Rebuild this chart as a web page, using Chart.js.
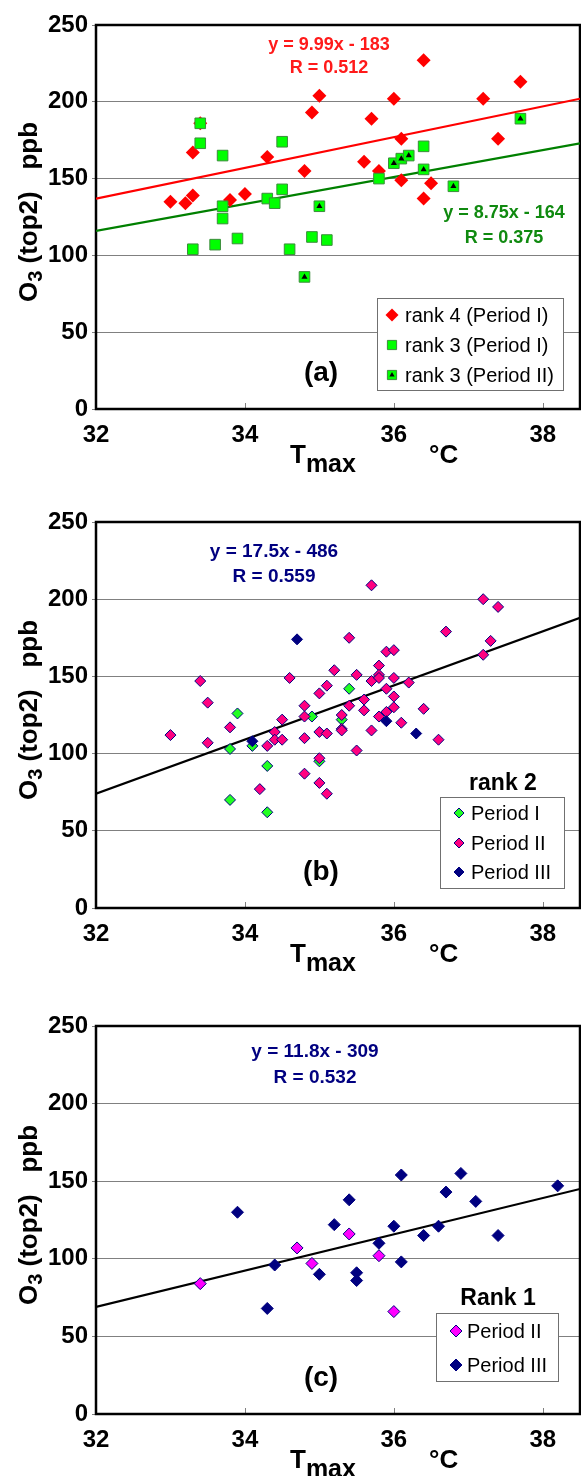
<!DOCTYPE html>
<html>
<head>
<meta charset="utf-8">
<script src="https://cdn.jsdelivr.net/npm/chart.js@4.4.1/dist/chart.umd.min.js"></script>
<style>
  body { margin: 0; background: #fff; }
  canvas { position: absolute; left: 0; }
</style>
</head>
<body>
<canvas id="chartA" width="581" height="497" style="top:0"></canvas>
<canvas id="chartB" width="581" height="504" style="top:497px"></canvas>
<canvas id="chartC" width="581" height="475" style="top:1001px"></canvas>
<script>
// axes
const xTicks = [32, 34, 36, 38];
const yTicks = [0, 50, 100, 150, 200, 250];

// (a) rank 4 / rank 3
const aRank4X = [33.0, 33.2, 33.3, 33.3, 33.4, 33.8, 34.0, 34.3, 34.8, 34.9, 35.0, 35.6, 35.7, 35.8, 36.0, 36.1, 36.1, 36.4, 36.4, 36.5, 37.2, 37.4, 37.7];
const aRank4Y = [135, 134, 139, 167, 186, 136, 140, 164, 155, 193, 204, 161, 189, 155, 202, 176, 149, 227, 137, 147, 202, 176, 213];
const aRank3P1X = [33.3, 33.4, 33.4, 33.6, 33.7, 33.7, 33.7, 33.9, 34.3, 34.4, 34.5, 34.5, 34.6, 34.9, 35.1, 35.8, 36.4];
const aRank3P1Y = [104, 186, 173, 107, 165, 132, 124, 111, 137, 134, 174, 143, 104, 112, 110, 150, 171];
const aRank3P2X = [34.8, 35.0, 36.0, 36.1, 36.2, 36.4, 36.8, 37.7];
const aRank3P2Y = [86, 132, 160, 163, 165, 156, 145, 189];
const aRedLineX = [32, 38.5];
const aRedLineY = [137, 202];
const aGreenLineX = [32, 38.5];
const aGreenLineY = [116, 173];

// (b) rank 2
const bP1X = [33.8, 33.8, 33.9, 34.1, 34.3, 34.3, 34.9, 35.0, 35.3, 35.4];
const bP1Y = [103, 70, 126, 105, 92, 62, 124, 95, 122, 142];
const bP2X = [33.0, 33.4, 33.5, 33.5, 33.8, 34.2, 34.3, 34.4, 34.4, 34.5, 34.5, 34.6, 34.8, 34.8, 34.8, 34.8, 35.0, 35.1, 35.0, 35.1, 35.0, 35.0, 35.1, 35.2, 35.4, 35.4, 35.3, 35.3, 35.3, 35.5, 35.5, 35.6, 35.6, 35.7, 35.7, 35.7, 35.8, 35.8, 35.8, 35.8, 35.9, 35.9, 35.9, 36.0, 36.0, 36.0, 36.0, 36.1, 36.2, 36.4, 36.6, 36.7, 37.2, 37.2, 37.3, 37.4];
const bP2Y = [112, 147, 133, 107, 117, 77, 105, 114, 109, 109, 122, 149, 131, 124, 110, 87, 139, 144, 114, 113, 97, 81, 74, 154, 175, 131, 125, 116, 115, 151, 102, 135, 128, 209, 147, 115, 157, 151, 149, 124, 166, 142, 127, 167, 149, 137, 130, 120, 146, 129, 109, 179, 200, 164, 173, 195];
const bP3X = [34.1, 34.7, 35.9, 36.3];
const bP3Y = [108, 174, 121, 113];
const bLineX = [32, 38.5];
const bLineY = [74, 188];

// (c) rank 1
const cP2X = [33.4, 34.7, 34.9, 35.4, 35.8, 36.0];
const cP2Y = [84, 107, 97, 116, 102, 66];
const cP3X = [33.9, 34.3, 34.4, 35.0, 35.2, 35.4, 35.5, 35.5, 35.8, 36.0, 36.1, 36.1, 36.4, 36.6, 36.7, 36.9, 37.1, 37.4, 38.2];
const cP3Y = [130, 68, 96, 90, 122, 138, 91, 86, 110, 121, 154, 98, 115, 121, 143, 155, 137, 115, 147];
const cLineX = [32, 38.5];
const cLineY = [69, 145];

Chart.defaults.font.family = '"Liberation Sans", Arial, sans-serif';
Chart.defaults.color = '#000';

function toPoints(xs, ys) {
  return xs.map((x, i) => ({x: x, y: ys[i]}));
}

function lineSet(xs, ys, color) {
  return {type: 'line', data: toPoints(xs, ys), borderColor: color, borderWidth: 2.2,
    pointRadius: 0, fill: false, order: 10};
}

function scalesFor(canvasH, plotBottom) {
  return {
    x: {
      type: 'linear', min: 32, max: 38.5,
      afterBuildTicks: s => { s.ticks = xTicks.map(v => ({value: v})); },
      afterFit: s => {
        s.height = canvasH - plotBottom;
        s.paddingLeft = 0;
        s.paddingRight = 0;
      },
      grid: {display: false},
      border: {display: false},
      ticks: {font: {size: 24, weight: 'bold'}, padding: 4}
    },
    y: {
      min: 0, max: 250,
      afterBuildTicks: s => { s.ticks = yTicks.map(v => ({value: v})); },
      afterFit: s => { s.width = 96; },
      grid: {color: '#808080', lineWidth: 1, tickLength: 4},
      border: {display: false},
      ticks: {font: {size: 24, weight: 'bold'}, padding: 4}
    }
  };
}

function drawMarker(ctx, ds, radius, x, y) {
  ctx.fillStyle = ds.backgroundColor;
  ctx.strokeStyle = ds.borderColor;
  ctx.lineWidth = ds.borderWidth || 0;
  Chart.helpers.drawPoint(ctx, {pointStyle: ds.pointStyle, radius: radius, rotation: 0, borderWidth: ds.borderWidth || 0}, x, y);
}

// frame, inner ticks, titles, equations, legend
function extras(p) {
  return {
    id: 'extras',
    beforeDatasetsDraw(chart) {
      const ctx = chart.ctx, a = chart.chartArea, x = chart.scales.x;
      ctx.save();
      ctx.strokeStyle = '#808080';
      ctx.lineWidth = 1;
      xTicks.slice(1).forEach(v => {
        const px = Math.round(x.getPixelForValue(v)) + 0.5;
        ctx.beginPath();
        ctx.moveTo(px, a.bottom);
        ctx.lineTo(px, a.bottom - 6);
        ctx.stroke();
      });
      ctx.strokeStyle = '#000';
      ctx.lineWidth = 2.5;
      ctx.strokeRect(a.left, a.top, a.right - a.left, a.bottom - a.top);
      ctx.restore();
    },
    afterDraw(chart) {
      const ctx = chart.ctx, a = chart.chartArea;
      ctx.save();
      ctx.fillStyle = '#000';
      ctx.textBaseline = 'alphabetic';

      // y title
      ctx.save();
      ctx.translate(37, (a.top + a.bottom) / 2 - 5);
      ctx.rotate(-Math.PI / 2);
      const big = 'bold 26px "Liberation Sans", Arial, sans-serif';
      const sub = 'bold 20px "Liberation Sans", Arial, sans-serif';
      ctx.font = big;
      const w1 = ctx.measureText('O').width, w3 = ctx.measureText(' (top2)   ppb').width;
      ctx.font = sub;
      const w2 = ctx.measureText('3').width;
      let tx = -(w1 + w2 + w3) / 2;
      ctx.textAlign = 'left';
      ctx.font = big; ctx.fillText('O', tx, 0); tx += w1;
      ctx.font = sub; ctx.fillText('3', tx, 5); tx += w2;
      ctx.font = big; ctx.fillText(' (top2)   ppb', tx, 0);
      ctx.restore();

      // x title
      ctx.textAlign = 'left';
      ctx.font = big;
      ctx.fillText('T', 290, a.bottom + 54);
      const tw = ctx.measureText('T').width;
      ctx.font = 'bold 25px "Liberation Sans", Arial, sans-serif';
      ctx.fillText('max', 290 + tw, a.bottom + 63);
      ctx.font = big;
      ctx.fillText('°C', 429, a.bottom + 54);

      // regression equations
      ctx.textAlign = 'center';
      p.equations.forEach(e => {
        ctx.fillStyle = e.color;
        ctx.font = 'bold ' + e.size + 'px "Liberation Sans", Arial, sans-serif';
        ctx.fillText(e.text, e.x, a.top + e.dy);
      });

      // panel letter
      ctx.fillStyle = '#000';
      ctx.font = 'bold 28px "Liberation Sans", Arial, sans-serif';
      ctx.fillText(p.letter, 321, a.bottom - 28);

      // legend
      const L = p.legend;
      if (L.title) {
        ctx.font = 'bold 23px "Liberation Sans", Arial, sans-serif';
        ctx.fillText(L.title, L.titleX, a.bottom + L.titleDy);
      }
      ctx.fillStyle = '#fff';
      ctx.fillRect(L.box[0], a.bottom + L.box[1], L.box[2] - L.box[0], L.box[3] - L.box[1]);
      ctx.strokeStyle = '#707070';
      ctx.lineWidth = 1;
      ctx.strokeRect(L.box[0] + 0.5, a.bottom + L.box[1] + 0.5, L.box[2] - L.box[0], L.box[3] - L.box[1]);
      ctx.textAlign = 'left';
      L.rows.forEach((r, i) => {
        const base = a.bottom + L.rowDy[i];
        r.sets.forEach((k, j) => {
          drawMarker(ctx, chart.data.datasets[k], r.radius[j], L.markX, base - 7);
        });
        ctx.fillStyle = '#000';
        ctx.font = '20px "Liberation Sans", Arial, sans-serif';
        ctx.fillText(r.text, L.textX, base);
      });
      ctx.restore();
    }
  };
}

function makePanel(id, canvasH, plotBottom, datasets, p) {
  return new Chart(document.getElementById(id), {
    type: 'scatter',
    data: {datasets: datasets},
    options: {
      responsive: false,
      animation: false,
      events: [],
      layout: {autoPadding: false, padding: {top: 25, right: 1, left: 0, bottom: 0}},
      plugins: {legend: {display: false}, tooltip: {enabled: false}},
      scales: scalesFor(canvasH, plotBottom)
    },
    plugins: [extras(p)]
  });
}

// panel (a)
makePanel('chartA', 497, 409, [
  {data: toPoints(aRank4X, aRank4Y), pointStyle: 'rectRot', pointRadius: 7, backgroundColor: '#ff0000', borderColor: '#ff0000', borderWidth: 0, order: 4},
  {data: toPoints(aRank3P1X, aRank3P1Y), pointStyle: 'rect', pointRadius: 7.5, backgroundColor: '#00ff00', borderColor: '#3c8c3c', borderWidth: 1, order: 3},
  {data: toPoints(aRank3P2X, aRank3P2Y), pointStyle: 'rect', pointRadius: 7.5, backgroundColor: '#00ff00', borderColor: '#3c8c3c', borderWidth: 1, order: 2},
  {data: toPoints(aRank3P2X, aRank3P2Y), pointStyle: 'triangle', pointRadius: 3.5, backgroundColor: '#000', borderColor: '#000', borderWidth: 0, order: 1},
  lineSet(aRedLineX, aRedLineY, '#ff0000'),
  lineSet(aGreenLineX, aGreenLineY, '#008000')
], {
  letter: '(a)',
  equations: [
    {text: 'y = 9.99x - 183', x: 329, dy: 25, color: '#ff1a1a', size: 18},
    {text: 'R = 0.512', x: 329, dy: 48, color: '#ff1a1a', size: 18},
    {text: 'y = 8.75x - 164', x: 504, dy: 193, color: '#108a10', size: 18},
    {text: 'R = 0.375', x: 504, dy: 218, color: '#108a10', size: 18}
  ],
  legend: {
    box: [377, -111, 563, -19], markX: 392, textX: 405, rowDy: [-87, -57, -27],
    rows: [
      {text: 'rank 4 (Period I)', sets: [0], radius: [6.5]},
      {text: 'rank 3 (Period I)', sets: [1], radius: [6.5]},
      {text: 'rank 3 (Period II)', sets: [2, 3], radius: [6.5, 3]}
    ]
  }
});

// panel (b)
makePanel('chartB', 504, 411, [
  {data: toPoints(bP1X, bP1Y), pointStyle: 'rectRot', pointRadius: 5.5, backgroundColor: '#22ff22', borderColor: '#000080', borderWidth: 1, order: 3},
  {data: toPoints(bP2X, bP2Y), pointStyle: 'rectRot', pointRadius: 5.5, backgroundColor: '#ff0080', borderColor: '#000080', borderWidth: 1, order: 2},
  {data: toPoints(bP3X, bP3Y), pointStyle: 'rectRot', pointRadius: 5.5, backgroundColor: '#000080', borderColor: '#000080', borderWidth: 1, order: 1},
  lineSet(bLineX, bLineY, '#000')
], {
  letter: '(b)',
  equations: [
    {text: 'y = 17.5x - 486', x: 274, dy: 35, color: '#000080', size: 19},
    {text: 'R = 0.559', x: 274, dy: 60, color: '#000080', size: 19}
  ],
  legend: {
    title: 'rank 2', titleX: 503, titleDy: -118,
    box: [440, -111, 564, -20], markX: 459, textX: 471, rowDy: [-88, -58, -29],
    rows: [
      {text: 'Period I', sets: [0], radius: [5]},
      {text: 'Period II', sets: [1], radius: [5]},
      {text: 'Period III', sets: [2], radius: [5]}
    ]
  }
});

// panel (c)
makePanel('chartC', 475, 413, [
  {data: toPoints(cP2X, cP2Y), pointStyle: 'rectRot', pointRadius: 6, backgroundColor: '#ff00ff', borderColor: '#000080', borderWidth: 1, order: 2},
  {data: toPoints(cP3X, cP3Y), pointStyle: 'rectRot', pointRadius: 6, backgroundColor: '#000080', borderColor: '#000080', borderWidth: 1, order: 1},
  lineSet(cLineX, cLineY, '#000')
], {
  letter: '(c)',
  equations: [
    {text: 'y = 11.8x - 309', x: 315, dy: 31, color: '#000080', size: 19},
    {text: 'R = 0.532', x: 315, dy: 57, color: '#000080', size: 19}
  ],
  legend: {
    title: 'Rank 1', titleX: 498, titleDy: -109,
    box: [436, -101, 558, -33], markX: 456, textX: 467, rowDy: [-76, -42],
    rows: [
      {text: 'Period II', sets: [0], radius: [6]},
      {text: 'Period III', sets: [1], radius: [6]}
    ]
  }
});
</script>
</body>
</html>
